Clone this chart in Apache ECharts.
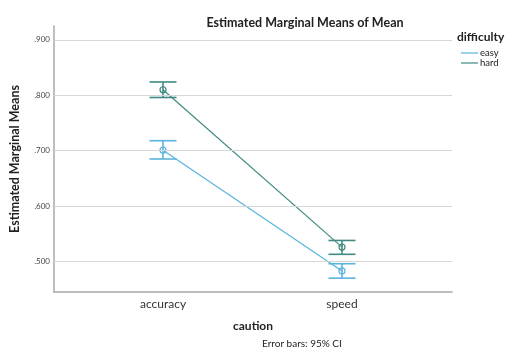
<!DOCTYPE html>
<html>
<head>
<meta charset="utf-8">
<script src="https://cdn.jsdelivr.net/npm/echarts@6/dist/echarts.min.js"></script>
<style>html,body{margin:0;padding:0;background:#fff;}#c{width:505px;height:350px;}</style>
</head>
<body>
<div id="c"></div>
<script>
var categories = ['accuracy', 'speed'];
var seriesNames = ['easy', 'hard'];
var easyMean = [0.701, 0.483];
var easyLow = [0.685, 0.470];
var easyHigh = [0.718, 0.496];
var hardMean = [0.810, 0.526];
var hardLow = [0.796, 0.513];
var hardHigh = [0.824, 0.538];
var yTicks = [0.5, 0.6, 0.7, 0.8, 0.9];

var colEasy = '#5ab3df';
var colHard = '#3f8a82';
var FONT = 'Lato, "Open Sans", sans-serif';

function isTick(v) {
  for (var i = 0; i < yTicks.length; i++) if (Math.abs(v - yTicks[i]) < 1e-6) return true;
  return false;
}
function fmt(v) { return v.toFixed(3).replace(/^0/, ''); }

function errSeries(name, low, high, color) {
  var d = low.map(function (l, i) { return [i, l, high[i]]; });
  return {
    type: 'custom', name: name + ' CI', xAxisIndex: 1, yAxisIndex: 1, z: 3,
    data: d,
    renderItem: function (params, api) {
      var x = api.value(0);
      var p1 = api.coord([x, api.value(1)]);
      var p2 = api.coord([x, api.value(2)]);
      var hw = 13.5;
      var st = { stroke: color, lineWidth: 1.6 };
      return {
        type: 'group', children: [
          { type: 'line', shape: { x1: p1[0], y1: p1[1], x2: p2[0], y2: p2[1] }, style: st },
          { type: 'line', shape: { x1: p1[0] - hw, y1: p1[1], x2: p1[0] + hw, y2: p1[1] }, style: st },
          { type: 'line', shape: { x1: p2[0] - hw, y1: p2[1], x2: p2[0] + hw, y2: p2[1] }, style: st }
        ]
      };
    },
    silent: true
  };
}

var yBase = { type: 'value', min: 0.445, max: 0.925, interval: 0.005 };

var option = {
  backgroundColor: '#fff',
  animation: false,
  title: {
    text: 'Estimated Marginal Means of Mean', left: 300, top: 11, textAlign: 'center',
    textStyle: { fontSize: 12.5, fontWeight: 'bold', color: '#222', fontFamily: FONT }
  },
  graphic: [
    { type: 'text', left: 457, top: 31, style: { text: 'difficulty', fill: '#222', font: 'bold 12px ' + FONT } },
    { type: 'text', left: 262, top: 339, style: { text: 'Error bars: 95% CI', fill: '#222', font: '10px ' + FONT } }
  ],
  legend: {
    orient: 'vertical', left: 461, top: 48, itemGap: 0,
    itemWidth: 17, itemHeight: 1.2, icon: 'rect',
    itemStyle: { borderWidth: 0 },
    textStyle: { fontSize: 9.5, color: '#222', fontFamily: FONT, padding: [0, 0, 0, -3], lineHeight: 10 },
    padding: 0
  },
  grid: [
    { left: 53, right: 53, top: 26, bottom: 58 },
    { left: 73.5, right: 73.5, top: 26, bottom: 58 }
  ],
  xAxis: [
    {
      type: 'category', gridIndex: 0, data: [''],
      axisLine: { show: true, lineStyle: { color: '#a8a8a8', width: 1.5 } },
      axisTick: { show: false }, axisLabel: { show: false }, splitLine: { show: false },
      name: 'caution', nameLocation: 'middle', nameGap: 28,
      nameTextStyle: { fontSize: 12, fontWeight: 'bold', color: '#222', fontFamily: FONT }
    },
    {
      type: 'category', gridIndex: 1, data: categories,
      axisLine: { show: false }, axisTick: { show: false },
      axisLabel: { fontSize: 12, color: '#333', margin: 6, fontFamily: FONT }
    }
  ],
  yAxis: [
    Object.assign({}, yBase, {
      gridIndex: 0,
      axisLine: { show: true, lineStyle: { color: '#a8a8a8', width: 1.5 } },
      axisTick: { show: false },
      axisLabel: {
        fontSize: 8, color: '#444', margin: 4, fontFamily: FONT,
        formatter: function (v) { return isTick(v) ? fmt(v) : ''; },
        showMinLabel: false, showMaxLabel: false
      },
      splitLine: { show: false },
      name: 'Estimated Marginal Means', nameLocation: 'middle', nameGap: 33,
      nameTextStyle: { fontSize: 12.5, fontWeight: 'bold', color: '#222', fontFamily: FONT }
    }),
    Object.assign({}, yBase, { gridIndex: 1, show: false, splitLine: { show: false } })
  ],
  series: [
    {
      name: 'grid', type: 'line', xAxisIndex: 0, yAxisIndex: 0, data: [], z: 1, silent: true,
      markLine: {
        silent: true, symbol: 'none', label: { show: false }, animation: false,
        lineStyle: { color: '#d6d6d6', width: 1.2, type: 'solid' },
        emphasis: { disabled: true },
        data: yTicks.map(function (t) { return { yAxis: t }; })
      }
    },
    {
      name: 'easy', type: 'line', xAxisIndex: 1, yAxisIndex: 1, data: easyMean, z: 4,
      symbol: 'circle', symbolSize: 6, showSymbol: true,
      itemStyle: { color: 'rgba(255,255,255,0)', borderColor: colEasy, borderWidth: 1.2 },
      lineStyle: { color: colEasy, width: 1.2 }, emphasis: { disabled: true }
    },
    {
      name: 'hard', type: 'line', xAxisIndex: 1, yAxisIndex: 1, data: hardMean, z: 4,
      symbol: 'circle', symbolSize: 6, showSymbol: true,
      itemStyle: { color: 'rgba(255,255,255,0)', borderColor: colHard, borderWidth: 1.2 },
      lineStyle: { color: colHard, width: 1.2 }, emphasis: { disabled: true }
    },
    errSeries('easy', easyLow, easyHigh, colEasy),
    errSeries('hard', hardLow, hardHigh, colHard)
  ]
};
option.legend.data = seriesNames.map(function (n, i) {
  return { name: n, itemStyle: { color: i ? colHard : colEasy, borderWidth: 0 } };
});

var chart = echarts.init(document.getElementById('c'), null, { renderer: 'canvas' });
chart.setOption(option);
</script>
</body>
</html>
